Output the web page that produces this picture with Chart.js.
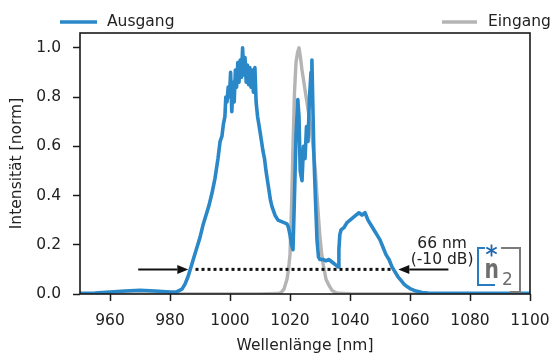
<!DOCTYPE html>
<html lang="de">
<head>
<meta charset="utf-8">
<title>Spektrum Ausgang / Eingang</title>
<script src="https://cdn.jsdelivr.net/npm/chart.js@4"></script>
<style>
    html, body { margin: 0; padding: 0; background: #fff; }
    #myChart { display: block; }
</style>
</head>
<body>
<canvas id="myChart" width="553" height="353"></canvas>
<script>
// Messdaten Ausgang (blau)
const wellenlaengeAusgang = [
    950, 955, 960, 965, 970, 975, 980, 982, 984, 985, 986, 987, 988, 989, 990, 991, 992, 993, 994, 995,
    996, 996.7, 997.3, 997.8, 998.3, 998.6, 999, 999.4, 999.8, 1000.2, 1000.6, 1001, 1001.4, 1001.8,
    1002.2, 1002.6, 1003, 1003.4, 1003.8, 1004.2, 1004.6, 1005, 1005.4, 1005.8, 1006.2, 1006.6, 1007,
    1007.4, 1007.8, 1008.3, 1008.7, 1009.2, 1010, 1010.5, 1011, 1011.5, 1012, 1012.5, 1013, 1013.5,
    1014, 1015, 1016, 1017, 1018, 1019, 1019.5, 1020, 1020.5, 1021, 1021.5, 1022, 1022.6, 1023, 1023.4,
    1024, 1024.5, 1025, 1025.5, 1026, 1026.5, 1027, 1027.3, 1027.7, 1028, 1028.5, 1029, 1029.5, 1030,
    1031, 1032, 1033, 1034, 1035, 1036, 1036.3, 1036.6, 1037, 1038, 1039, 1040, 1041, 1042, 1043, 1044,
    1045, 1046, 1047, 1048, 1049, 1050, 1051, 1052, 1053, 1054, 1055, 1056, 1057, 1058, 1059, 1060,
    1062, 1064, 1066, 1070, 1080, 1090, 1100
];
const intensitaetAusgang = [
    0.003, 0.004, 0.008, 0.012, 0.015, 0.012, 0.008, 0.008, 0.02, 0.04, 0.07, 0.11, 0.15, 0.19, 0.23, 0.28, 0.32, 0.36, 0.41, 0.47,
    0.55, 0.62, 0.64, 0.69, 0.72, 0.80, 0.78, 0.84, 0.80, 0.90, 0.74, 0.86, 0.78, 0.91,
    0.84, 0.94, 0.86, 0.95, 0.88, 1.0, 0.89, 0.96, 0.86, 0.93, 0.85, 0.92, 0.84,
    0.91, 0.82, 0.92, 0.78, 0.72, 0.66, 0.62, 0.58, 0.55, 0.50, 0.46, 0.42, 0.38,
    0.355, 0.32, 0.30, 0.295, 0.29, 0.285, 0.27, 0.24, 0.20, 0.18, 0.40, 0.64, 0.79, 0.72, 0.50,
    0.46, 0.60, 0.55, 0.68, 0.62, 0.80, 0.90, 0.95, 0.72, 0.55, 0.38, 0.22, 0.15, 0.14,
    0.14, 0.135, 0.14, 0.13, 0.12, 0.11, 0.18, 0.24, 0.26, 0.27, 0.29, 0.30, 0.31, 0.32, 0.33, 0.32,
    0.33, 0.30, 0.28, 0.26, 0.24, 0.22, 0.19, 0.16, 0.14, 0.11, 0.09, 0.07, 0.055, 0.04, 0.03, 0.022,
    0.012, 0.006, 0.004, 0.003, 0.003, 0.003, 0.003
];

// Messdaten Eingang (grau)
const wellenlaengeEingang = [
    950, 1010, 1016, 1017, 1018, 1019, 1019.5, 1020, 1020.5, 1021, 1021.5, 1022, 1022.5, 1023, 1023.5,
    1024, 1024.5, 1025, 1025.5, 1026, 1026.5, 1027, 1027.5, 1028, 1028.5, 1029, 1029.5, 1030, 1030.5,
    1031, 1032, 1033, 1034, 1035, 1036, 1040, 1100
];
const intensitaetEingang = [
    0.0, 0.0, 0.002, 0.006, 0.02, 0.06, 0.10, 0.16, 0.35, 0.60, 0.82, 0.94, 0.98, 1.0, 0.96,
    0.91, 0.87, 0.83, 0.79, 0.75, 0.71, 0.67, 0.62, 0.56, 0.49, 0.40, 0.31, 0.23, 0.17,
    0.125, 0.06, 0.035, 0.015, 0.007, 0.003, 0.001, 0.0
];

// Bandbreite bei -10 dB
const bandbreiteNiveau = 0.1;
const bandbreiteBereich = [988.5, 1054.5];
const pfeilLinks = [969.4, 986.1];
const pfeilRechts = [1072.8, 1056.1];
const bandbreiteText = ['66 nm', '(-10 dB)'];
const bandbreiteTextPos = [[1070.7, 0.203], [1070.7, 0.138]];

// Achsen
const xTicks = [960, 980, 1000, 1020, 1040, 1060, 1080, 1100];
const yTicks = [0.0, 0.2, 0.4, 0.6, 0.8, 1.0];

const FONT = '"DejaVu Sans", sans-serif';
const BLAU = '#2a88c8';
const GRAU = '#b4b4b4';
const TEXT = '#222222';

// Punkte aus zwei Arrays bauen
function toPoints(xs, ys) {
    return xs.map((x, i) => ({ x: x, y: ys[i] }));
}

// Pfeil mit Spitze zeichnen
function drawArrow(ctx, x0, x1, y) {
    const dir = x1 > x0 ? 1 : -1;
    const head = 11;
    ctx.strokeStyle = '#111';
    ctx.fillStyle = '#111';
    ctx.lineWidth = 2;
    ctx.beginPath();
    ctx.moveTo(x0, y);
    ctx.lineTo(x1 - dir * head, y);
    ctx.stroke();
    ctx.beginPath();
    ctx.moveTo(x1, y);
    ctx.lineTo(x1 - dir * head, y - 4.5);
    ctx.lineTo(x1 - dir * head, y + 4.5);
    ctx.closePath();
    ctx.fill();
}

// n2 Logo unten rechts
function drawLogo(ctx, right, bottom) {
    const left = right - 42;
    const top = bottom - 44;
    ctx.lineWidth = 2;
    ctx.strokeStyle = '#2a7cc0';
    ctx.beginPath();
    ctx.moveTo(left + 7, top);
    ctx.lineTo(left, top);
    ctx.lineTo(left, bottom - 7);
    ctx.lineTo(left + 17, bottom - 7);
    ctx.stroke();
    ctx.strokeStyle = '#7a7a7a';
    ctx.beginPath();
    ctx.moveTo(left + 23, top);
    ctx.lineTo(right, top);
    ctx.lineTo(right, bottom);
    ctx.lineTo(right - 10, bottom);
    ctx.stroke();
    // Stern
    const cx = left + 13.5, cy = top + 2.5, r = 6;
    ctx.strokeStyle = '#1f66ad';
    ctx.lineWidth = 1.8;
    [90, 30, 150].forEach(a => {
        const rad = a * Math.PI / 180;
        ctx.beginPath();
        ctx.moveTo(cx - r * Math.cos(rad), cy - r * Math.sin(rad));
        ctx.lineTo(cx + r * Math.cos(rad), cy + r * Math.sin(rad));
        ctx.stroke();
    });
    // n und 2
    ctx.fillStyle = '#6e6e6e';
    ctx.textAlign = 'left';
    ctx.textBaseline = 'alphabetic';
    ctx.save();
    ctx.translate(left + 6.5, top + 30);
    ctx.scale(0.75, 1);
    ctx.font = 'bold 27px ' + FONT;
    ctx.fillText('n', 0, 0);
    ctx.restore();
    ctx.font = '17px ' + FONT;
    ctx.fillText('2', left + 24, bottom - 7);
}

const extrasPlugin = {
    id: 'extras',
    afterDatasetsDraw(chart) {
        const { ctx, chartArea, scales } = chart;
        const xs = scales.x, ys = scales.y;
        ctx.save();
        // Rahmen
        ctx.strokeStyle = '#1a1a1a';
        ctx.lineWidth = 1.6;
        ctx.strokeRect(chartArea.left, chartArea.top, chartArea.right - chartArea.left, chartArea.bottom - chartArea.top);

        const yBand = ys.getPixelForValue(bandbreiteNiveau);
        drawArrow(ctx, xs.getPixelForValue(pfeilLinks[0]), xs.getPixelForValue(pfeilLinks[1]), yBand);
        drawArrow(ctx, xs.getPixelForValue(pfeilRechts[0]), xs.getPixelForValue(pfeilRechts[1]), yBand);

        ctx.font = '15.5px ' + FONT;
        ctx.fillStyle = TEXT;
        ctx.textAlign = 'center';
        ctx.textBaseline = 'middle';
        bandbreiteText.forEach((t, i) => {
            ctx.fillText(t, xs.getPixelForValue(bandbreiteTextPos[i][0]), ys.getPixelForValue(bandbreiteTextPos[i][1]));
        });

        drawLogo(ctx, chartArea.right - 10, chartArea.bottom - 2);
        ctx.restore();
    },
    afterDraw(chart) {
        // Legende: Ausgang links, Eingang rechts
        const ctx = chart.ctx;
        const ds = chart.data.datasets;
        const y = 22;
        ctx.save();
        ctx.font = '15.5px ' + FONT;
        ctx.fillStyle = TEXT;
        ctx.textBaseline = 'middle';
        ctx.textAlign = 'left';
        ctx.lineWidth = 3.6;
        ctx.strokeStyle = ds[1].borderColor;
        ctx.beginPath(); ctx.moveTo(60, y); ctx.lineTo(97, y); ctx.stroke();
        ctx.fillText(ds[1].label, 107, y);
        ctx.strokeStyle = ds[2].borderColor;
        ctx.beginPath(); ctx.moveTo(442, y); ctx.lineTo(477, y); ctx.stroke();
        ctx.fillText(ds[2].label, 488, y);
        ctx.restore();
    }
};

function createChart() {
    const ctx = document.getElementById('myChart').getContext('2d');
    new Chart(ctx, {
        type: 'line',
        data: {
            datasets: [
                {
                    label: 'Bandbreite',
                    data: toPoints(bandbreiteBereich, [bandbreiteNiveau, bandbreiteNiveau]),
                    borderColor: '#111',
                    borderWidth: 3,
                    borderDash: [3, 3],
                    pointRadius: 0,
                    order: 0
                },
                {
                    label: 'Ausgang',
                    data: toPoints(wellenlaengeAusgang, intensitaetAusgang),
                    borderColor: BLAU,
                    borderWidth: 3.6,
                    pointRadius: 0,
                    tension: 0,
                    borderJoinStyle: 'round',
                    order: 1
                },
                {
                    label: 'Eingang',
                    data: toPoints(wellenlaengeEingang, intensitaetEingang),
                    borderColor: GRAU,
                    borderWidth: 3.4,
                    pointRadius: 0,
                    tension: 0,
                    borderJoinStyle: 'round',
                    order: 2
                }
            ]
        },
        options: {
            responsive: false,
            animation: false,
            layout: { padding: { left: 0, right: 23, top: 33, bottom: 0 } },
            scales: {
                x: {
                    type: 'linear',
                    min: 950,
                    max: 1100,
                    afterBuildTicks: s => { s.ticks = xTicks.map(v => ({ value: v })); },
                    afterFit: s => { s.height = 59; s.paddingLeft = 0; s.paddingRight = 0; },
                    border: { display: false },
                    grid: { drawOnChartArea: false, tickLength: 7, tickWidth: 1.5, tickColor: '#1a1a1a' },
                    ticks: { color: TEXT, font: { family: FONT, size: 15.5 }, padding: 11, maxRotation: 0, callback: v => String(v) },
                    title: { display: true, text: 'Wellenlänge [nm]', color: TEXT, font: { family: FONT, size: 15.5, lineHeight: 0.85 }, padding: 0 }
                },
                y: {
                    min: 0,
                    max: 1.06,
                    afterBuildTicks: s => { s.ticks = yTicks.map(v => ({ value: v })); },
                    afterFit: s => { s.width = 80; },
                    border: { display: false },
                    grid: { drawOnChartArea: false, tickLength: 7, tickWidth: 1.5, tickColor: '#1a1a1a' },
                    ticks: { color: TEXT, font: { family: FONT, size: 15.5 }, padding: 12, callback: v => v.toFixed(1) },
                    title: { display: true, text: 'Intensität [norm]', color: TEXT, font: { family: FONT, size: 15.5, lineHeight: 1.2 }, padding: { top: 8, bottom: 0 } }
                }
            },
            plugins: {
                legend: { display: false },
                tooltip: { enabled: false }
            }
        },
        plugins: [extrasPlugin]
    });
}

document.addEventListener('DOMContentLoaded', () => {
    createChart();
});
</script>
</body>
</html>
